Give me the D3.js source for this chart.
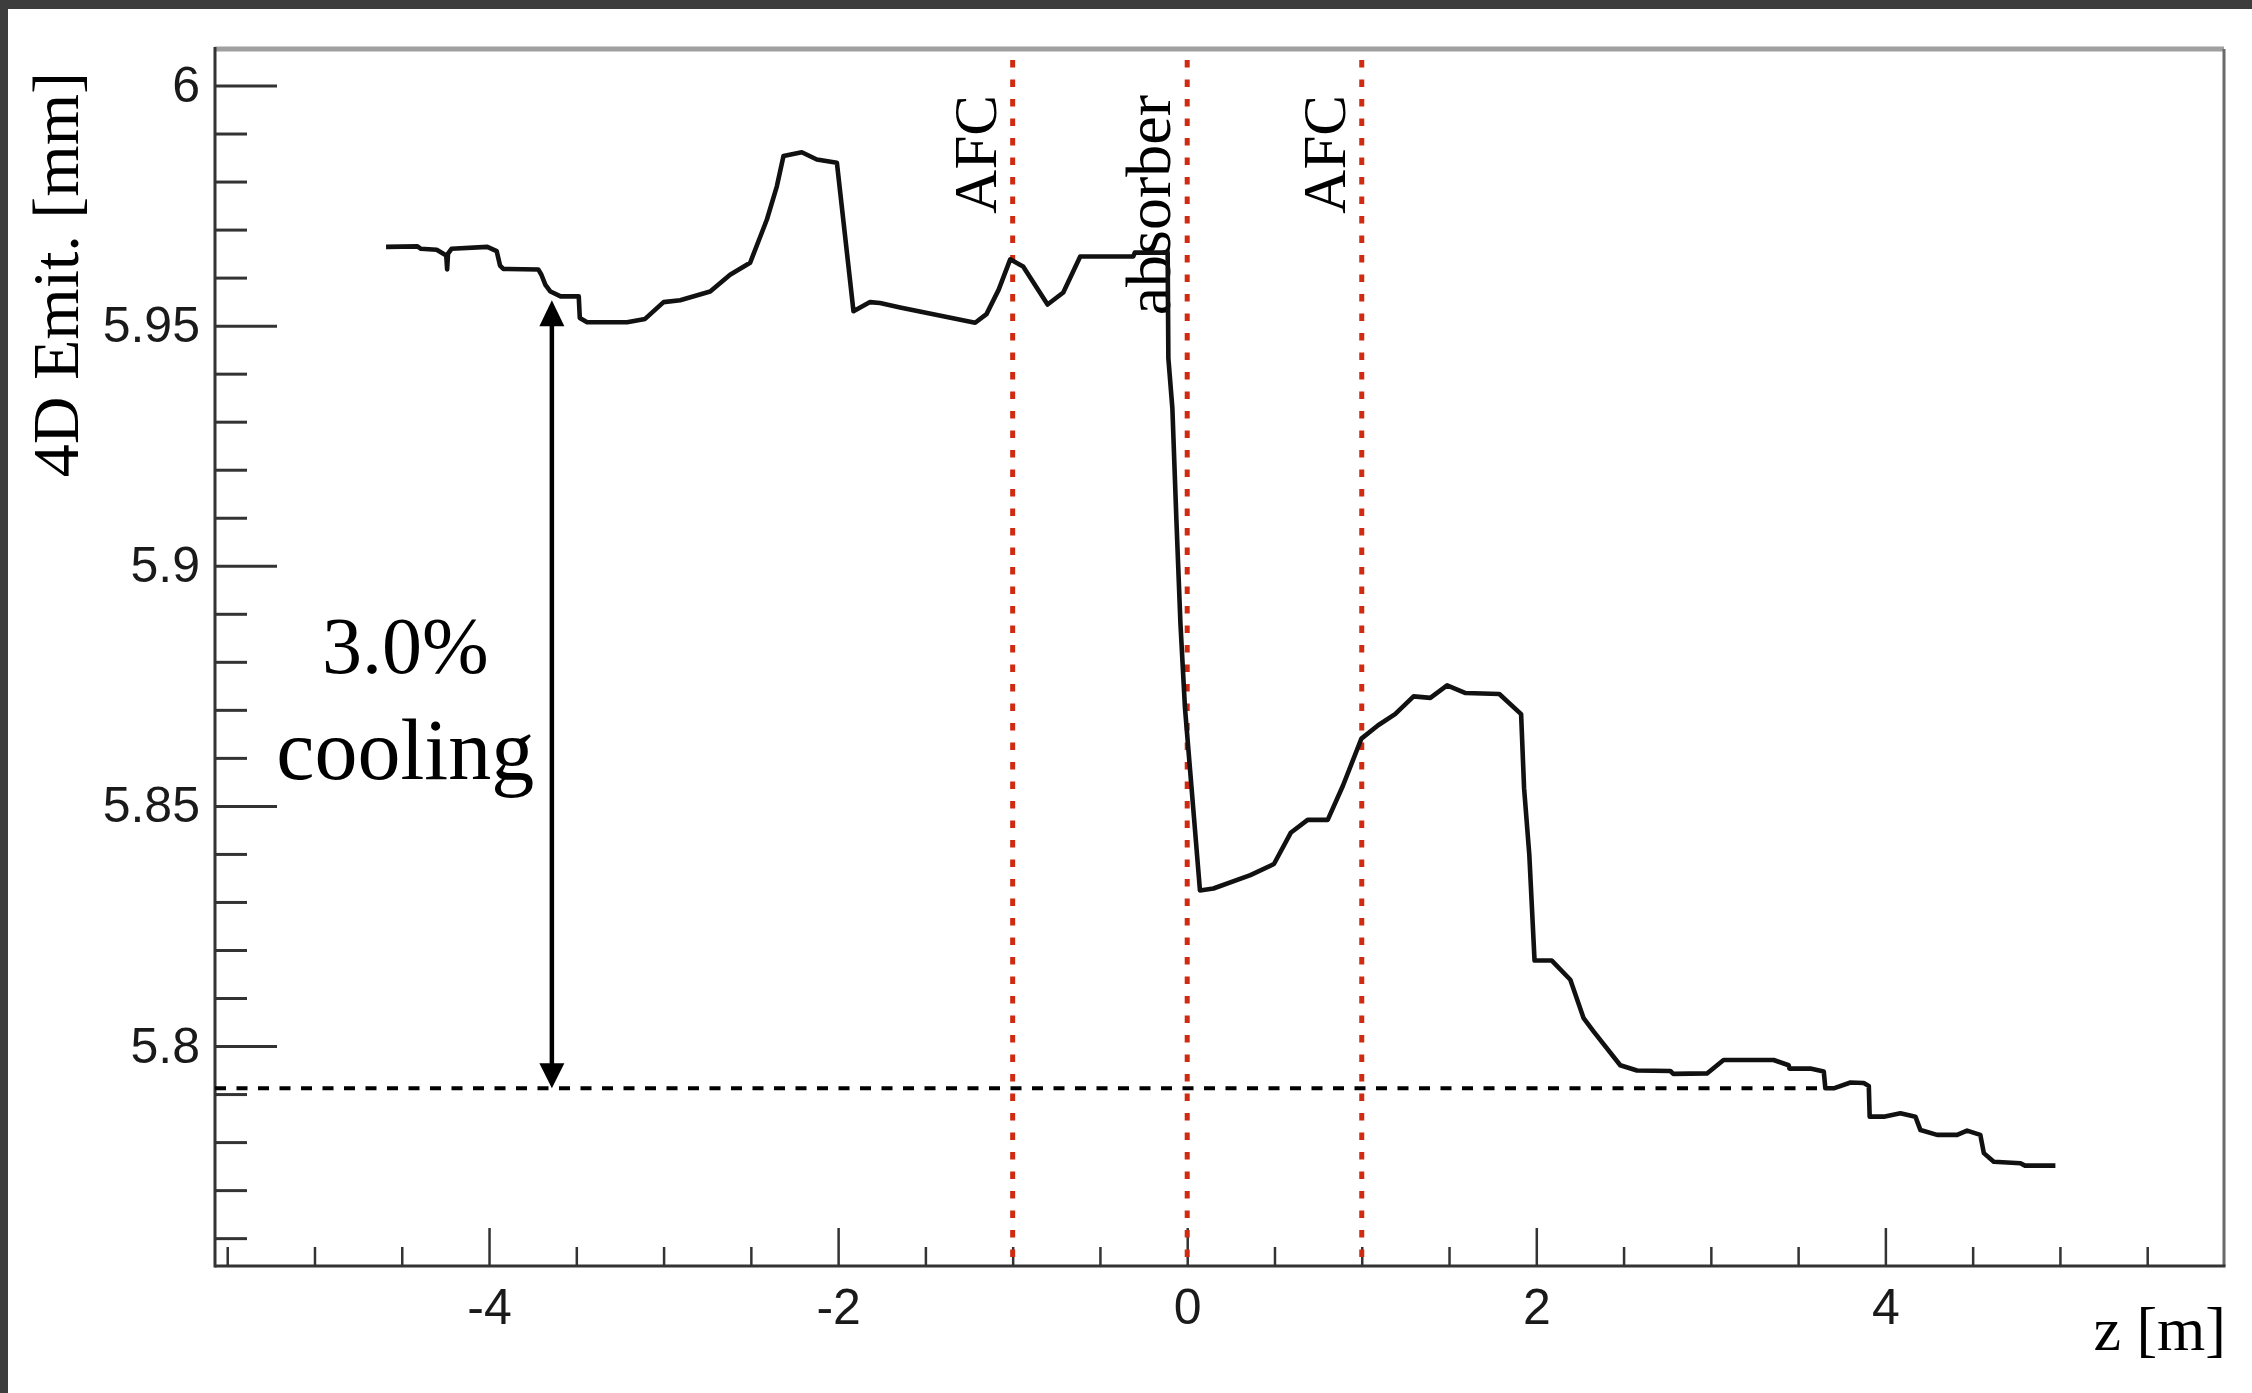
<!doctype html>
<html>
<head>
<meta charset="utf-8">
<script src="https://d3js.org/d3.v7.min.js"></script>
<style>
body { margin: 0; background: #fff; }
svg { display: block; }
</style>
</head>
<body>
<svg width="2252" height="1393"></svg>
<script>
// emittance along z
var zPos = [-4.59, -4.41, -4.39, -4.30, -4.245, -4.24, -4.235, -4.215, -4.01, -3.956, -3.937, -3.918,
  -3.718, -3.70, -3.677, -3.648, -3.59, -3.486, -3.48, -3.438, -3.209, -3.106, -3.0, -2.905,
  -2.733, -2.619, -2.504, -2.408, -2.351, -2.313, -2.208, -2.122, -2.007, -1.912, -1.817, -1.76,
  -1.645, -1.215, -1.15, -1.08, -1.014, -0.94, -0.80, -0.71, -0.613, -0.309, -0.30, -0.112,
  -0.108, -0.085, -0.062, -0.039, -0.013, 0.025, 0.073, 0.150, 0.362, 0.497, 0.593, 0.690,
  0.805, 0.892, 0.998, 1.094, 1.191, 1.297, 1.393, 1.489, 1.595, 1.788, 1.913, 1.93,
  1.96, 1.99, 2.089, 2.195, 2.271, 2.329, 2.481, 2.577, 2.768, 2.785, 2.978, 3.073,
  3.360, 3.446, 3.45, 3.570, 3.647, 3.656, 3.704, 3.80, 3.876, 3.905, 3.91, 3.991,
  4.086, 4.172, 4.201, 4.296, 4.411, 4.468, 4.544, 4.564, 4.621, 4.774, 4.80, 4.974];
var emit = [5.9664, 5.9665, 5.9660, 5.9658, 5.9646, 5.9617, 5.9650, 5.9660, 5.9664, 5.9655, 5.9625, 5.9618,
  5.9617, 5.9606, 5.9585, 5.9571, 5.9561, 5.9561, 5.9516, 5.9507, 5.9507, 5.9514, 5.9549, 5.9553,
  5.9571, 5.9606, 5.9631, 5.9721, 5.9790, 5.9853, 5.9861, 5.9846, 5.9839, 5.9530, 5.9549, 5.9547,
  5.9538, 5.9506, 5.9524, 5.9575, 5.9638, 5.9623, 5.9544, 5.9569, 5.9644, 5.9644, 5.9652, 5.9652,
  5.9432, 5.9328, 5.9096, 5.8881, 5.8705, 5.8537, 5.8324, 5.8328, 5.8356, 5.8379, 5.8444, 5.8471,
  5.8471, 5.8542, 5.8640, 5.8668, 5.8691, 5.8728, 5.8725, 5.8751, 5.8735, 5.8733, 5.8691, 5.8537,
  5.8398, 5.8178, 5.8178, 5.8138, 5.8058, 5.8030, 5.7960, 5.7949, 5.7948, 5.7942, 5.7943, 5.7971,
  5.7971, 5.7960, 5.7953, 5.7953, 5.7947, 5.7912, 5.7912, 5.7924, 5.7923, 5.7917, 5.7853, 5.7853,
  5.7860, 5.7853, 5.7825, 5.7815, 5.7815, 5.7824, 5.7815, 5.7777, 5.7759, 5.7756, 5.7751, 5.7751];

var xMajor = [-4, -2, 0, 2, 4];
var xMinor = [-5.5, -5, -4.5, -3.5, -3, -2.5, -1.5, -1, -0.5, 0.5, 1, 1.5, 2.5, 3, 3.5, 4.5, 5, 5.5];
var yMajor = [5.8, 5.85, 5.9, 5.95, 6];
var yMinor = [5.76, 5.77, 5.78, 5.79, 5.81, 5.82, 5.83, 5.84, 5.86, 5.87, 5.88, 5.89,
  5.91, 5.92, 5.93, 5.94, 5.96, 5.97, 5.98, 5.99];
var yTickLabels = ["5.8", "5.85", "5.9", "5.95", "6"];

var markerZ = [-1, 0, 1];
var markerLabels = ["AFC", "absorber", "AFC"];

var coolLevel = 5.7912;   // end emittance line
var coolLineEnd = 3.66;   // z where dashed line stops
var arrowZ = -3.64;
var arrowTop = 5.9553;
var noteLines = ["3.0%", "cooling"];
var noteZ = -4.48;
var noteV = [5.8777, 5.8556];

var svg = d3.select("svg");

// dark border strips
svg.append("rect").attr("x", 0).attr("y", 0).attr("width", 2252).attr("height", 9).attr("fill", "#3d3d3d");
svg.append("rect").attr("x", 0).attr("y", 0).attr("width", 8).attr("height", 1393).attr("fill", "#3d3d3d");

var padL = 215, padR = 2224, padT = 49, padB = 1266;

var x = d3.scaleLinear().domain([-5.57, 5.94]).range([padL, padR]);
var y = d3.scaleLinear().domain([5.7542, 6.0076]).range([padB, padT]);

var sans = "'Liberation Sans', Arial, Helvetica, sans-serif";
var serif = "'Liberation Serif', 'Times New Roman', serif";

// x axis
var gx = svg.append("g").attr("transform", "translate(0," + padB + ")");
gx.call(d3.axisBottom(x).tickValues(xMinor).tickSize(-19).tickFormat(""));
var gx2 = svg.append("g").attr("transform", "translate(0," + padB + ")");
gx2.call(d3.axisBottom(x).tickValues(xMajor).tickSize(-38).tickPadding(22).tickFormat(d3.format("d")));
[gx, gx2].forEach(function(g) {
  g.select(".domain").remove();
  g.selectAll(".tick line").attr("stroke", "#333").attr("stroke-width", 2.5);
});
gx2.selectAll(".tick text").style("font-family", sans).style("font-size", "50px").attr("fill", "#1a1a1a")
  .text(function(d) { return d < 0 ? "-" + Math.abs(d) : d; });

// y axis
var gy = svg.append("g").attr("transform", "translate(" + padL + ",0)");
gy.call(d3.axisLeft(y).tickValues(yMinor).tickSize(-32).tickFormat(""));
var gy2 = svg.append("g").attr("transform", "translate(" + padL + ",0)");
gy2.call(d3.axisLeft(y).tickValues(yMajor).tickSize(-62).tickPadding(15)
  .tickFormat(function(d, i) { return yTickLabels[i]; }));
[gy, gy2].forEach(function(g) {
  g.select(".domain").remove();
  g.selectAll(".tick line").attr("stroke", "#333").attr("stroke-width", 3);
});
gy2.selectAll(".tick text").style("font-family", sans).style("font-size", "50px").attr("fill", "#1a1a1a");

// frame
svg.append("line").attr("x1", padL).attr("x2", padR).attr("y1", padT).attr("y2", padT)
  .attr("stroke", "#a0a0a0").attr("stroke-width", 5);
svg.append("line").attr("x1", padR).attr("x2", padR).attr("y1", padT).attr("y2", padB)
  .attr("stroke", "#6a6a6a").attr("stroke-width", 3);
svg.append("line").attr("x1", padL).attr("x2", padR + 1.5).attr("y1", padB).attr("y2", padB)
  .attr("stroke", "#333").attr("stroke-width", 3);
svg.append("line").attr("x1", padL).attr("x2", padL).attr("y1", padT - 2).attr("y2", padB + 1.5)
  .attr("stroke", "#333").attr("stroke-width", 3);

// red dotted markers
svg.append("g").selectAll("line").data(markerZ).enter().append("line")
  .attr("x1", d => x(d)).attr("x2", d => x(d))
  .attr("y1", padT + 11).attr("y2", padB)
  .attr("stroke", "#d02a10").attr("stroke-width", 5).attr("stroke-dasharray", "7.5,12");

svg.append("g").selectAll("text").data(markerZ).enter().append("text")
  .attr("transform", d => "translate(" + (x(d) - 17) + ",95)rotate(-90)")
  .attr("text-anchor", "end")
  .style("font-family", serif).style("font-size", (d, i) => i == 1 ? "64px" : "61px").attr("fill", "#000")
  .text((d, i) => markerLabels[i]);

// end emittance dashed line
svg.append("line").attr("x1", padL).attr("x2", x(coolLineEnd))
  .attr("y1", y(coolLevel)).attr("y2", y(coolLevel))
  .attr("stroke", "#000").attr("stroke-width", 4).attr("stroke-dasharray", "11,10.5");

// data curve
var pts = zPos.map((z, i) => ({ z: z, v: emit[i] }));
svg.append("path").datum(pts)
  .attr("fill", "none").attr("stroke", "#111").attr("stroke-width", 4.6)
  .attr("stroke-linejoin", "round")
  .attr("d", d3.line().x(d => x(d.z)).y(d => y(d.v)));

// double arrow
var ax = x(arrowZ), ay1 = y(arrowTop), ay2 = y(coolLevel);
svg.append("line").attr("x1", ax).attr("x2", ax).attr("y1", ay1 + 20).attr("y2", ay2 - 20)
  .attr("stroke", "#000").attr("stroke-width", 4.5);
svg.append("path").attr("fill", "#000")
  .attr("d", "M" + ax + "," + ay1 + "L" + (ax + 12.5) + "," + (ay1 + 26) + "L" + (ax - 12.5) + "," + (ay1 + 26) + "Z");
svg.append("path").attr("fill", "#000")
  .attr("d", "M" + ax + "," + ay2 + "L" + (ax + 12.5) + "," + (ay2 - 25) + "L" + (ax - 12.5) + "," + (ay2 - 25) + "Z");

svg.append("g").selectAll("text").data(noteLines).enter().append("text")
  .attr("x", x(noteZ)).attr("y", (d, i) => y(noteV[i]))
  .attr("text-anchor", "middle")
  .style("font-family", serif).style("font-size", (d, i) => i == 0 ? "80px" : "86px").attr("fill", "#000")
  .text(d => d);

// axis titles
svg.append("text")
  .attr("transform", "translate(78,72)rotate(-90)")
  .attr("text-anchor", "end")
  .style("font-family", serif).style("font-size", "66px").attr("fill", "#000")
  .text("4D Emit. [mm]");

svg.append("text")
  .attr("x", 2226).attr("y", 1350)
  .attr("text-anchor", "end")
  .style("font-family", serif).style("font-size", "62px").attr("fill", "#000")
  .text("z [m]");
</script>
</body>
</html>
